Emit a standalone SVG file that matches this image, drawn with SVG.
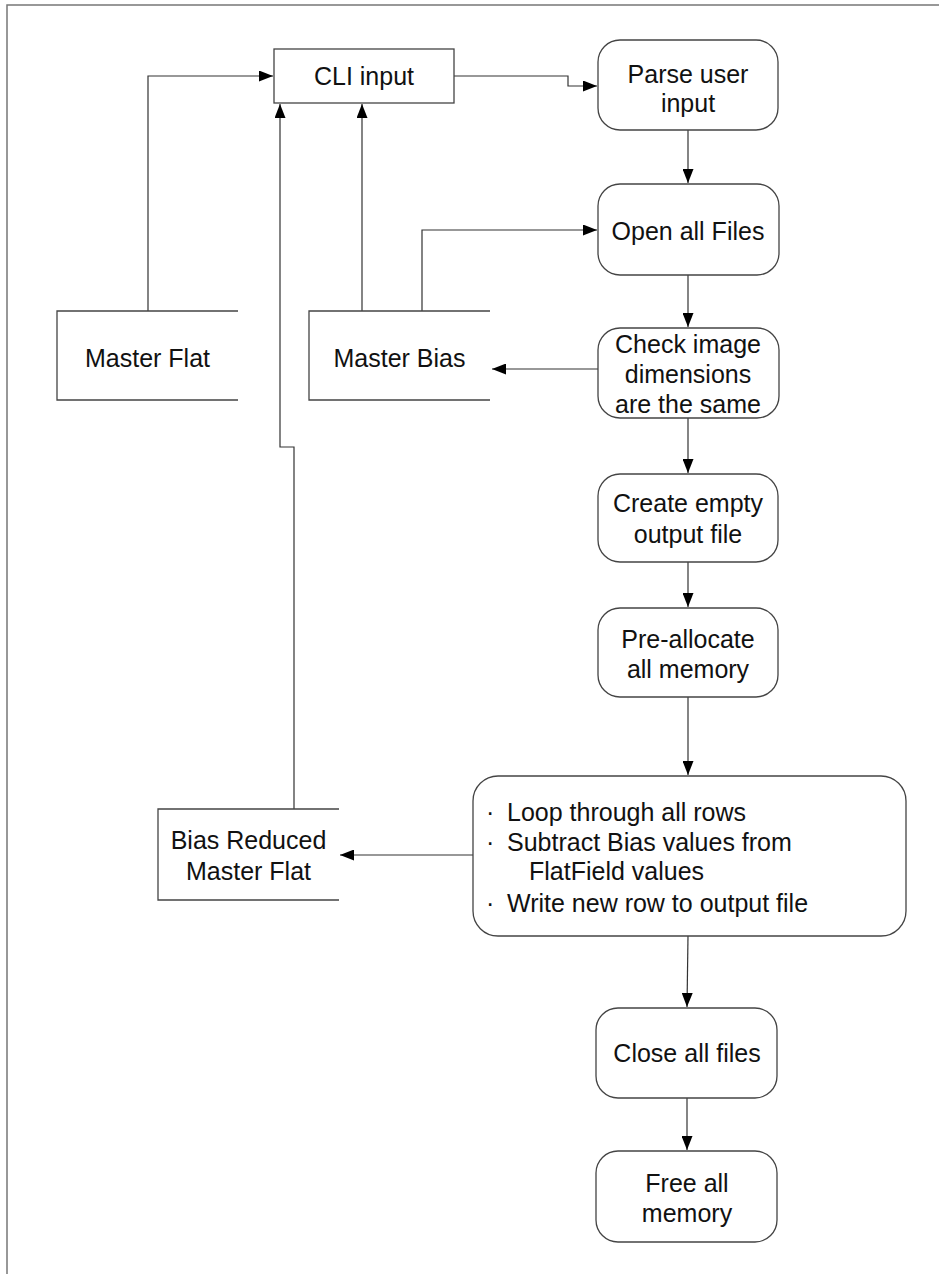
<svg xmlns="http://www.w3.org/2000/svg" width="939" height="1274" viewBox="0 0 939 1274">
<defs>
<marker id="arr" viewBox="0 0 14 11" refX="14" refY="5.5" markerWidth="14" markerHeight="11" markerUnits="userSpaceOnUse" orient="auto">
<path d="M0,0 L14,5.5 L0,11 z" fill="#000"/>
</marker>
<style>
.t{font-family:"Liberation Sans",Arial,sans-serif;font-size:25px;fill:#111;}
.c{text-anchor:middle;}
.box{fill:#fff;stroke:#444;stroke-width:1.3;}
.open{fill:none;stroke:#444;stroke-width:1.3;}
.ln{fill:none;stroke:#333;stroke-width:1.2;}
.frame{fill:none;stroke:#777;stroke-width:1.5;}
</style>
</defs>
<rect width="939" height="1274" fill="#fff"/>
<path class="frame" d="M7,1274 V5 H939"/>

<g id="connectors">
<path class="ln" d="M452,76 H568 V86 H597" marker-end="url(#arr)"/>
<path class="ln" d="M148,311 V76 H273" marker-end="url(#arr)"/>
<path class="ln" d="M362,311 V104" marker-end="url(#arr)"/>
<path class="ln" d="M294,809 V447 H280 V104" marker-end="url(#arr)"/>
<path class="ln" d="M422,311 V230 H597" marker-end="url(#arr)"/>
<path class="ln" d="M688,130 V183" marker-end="url(#arr)"/>
<path class="ln" d="M688,275 V327" marker-end="url(#arr)"/>
<path class="ln" d="M598,369 H492" marker-end="url(#arr)"/>
<path class="ln" d="M688,418 V473" marker-end="url(#arr)"/>
<path class="ln" d="M688,562 V607" marker-end="url(#arr)"/>
<path class="ln" d="M688,697 V775" marker-end="url(#arr)"/>
<path class="ln" d="M473,855 H340" marker-end="url(#arr)"/>
<path class="ln" d="M688,936 L687,1007" marker-end="url(#arr)"/>
<path class="ln" d="M687,1098 V1150" marker-end="url(#arr)"/>
</g>

<g id="cli">
<rect class="box" x="274" y="49" width="180" height="54"/>
<text class="t c" x="364" y="85">CLI input</text>
</g>

<g id="parse">
<rect class="box" x="598" y="40" width="180" height="90" rx="22"/>
<text class="t c" x="688" y="83">Parse user</text>
<text class="t c" x="688" y="112">input</text>
</g>

<g id="open">
<rect class="box" x="598" y="184" width="181" height="91" rx="22"/>
<text class="t c" x="688" y="240">Open all Files</text>
</g>

<g id="masterflat">
<path class="open" d="M238,311 H57 V400 H238"/>
<text class="t c" x="147.5" y="367">Master Flat</text>
</g>

<g id="masterbias">
<path class="open" d="M490,311 H309 V400 H490"/>
<text class="t c" x="399.5" y="367">Master Bias</text>
</g>

<g id="check">
<rect class="box" x="598" y="328" width="181" height="90" rx="22"/>
<text class="t c" x="688" y="353">Check image</text>
<text class="t c" x="688" y="383">dimensions</text>
<text class="t c" x="688" y="413">are the same</text>
</g>

<g id="create">
<rect class="box" x="598" y="474" width="180" height="88" rx="22"/>
<text class="t c" x="688" y="512">Create empty</text>
<text class="t c" x="688" y="543">output file</text>
</g>

<g id="prealloc">
<rect class="box" x="598" y="608" width="180" height="89" rx="22"/>
<text class="t c" x="688" y="648">Pre-allocate</text>
<text class="t c" x="688" y="678">all memory</text>
</g>

<g id="loop">
<rect class="box" x="473" y="776" width="433" height="160" rx="25"/>
<text class="t" x="486" y="821">·</text><text class="t" x="507" y="821">Loop through all rows</text>
<text class="t" x="486" y="851">·</text><text class="t" x="507" y="851">Subtract Bias values from</text>
<text class="t" x="529" y="880">FlatField values</text>
<text class="t" x="486" y="912">·</text><text class="t" x="507" y="912">Write new row to output file</text>
</g>

<g id="biasreduced">
<path class="open" d="M339,809 H158 V900 H339"/>
<text class="t c" x="248.5" y="849">Bias Reduced</text>
<text class="t c" x="248.5" y="880">Master Flat</text>
</g>

<g id="close">
<rect class="box" x="596" y="1008" width="181" height="90" rx="22"/>
<text class="t c" x="687" y="1062">Close all files</text>
</g>

<g id="free">
<rect class="box" x="596" y="1151" width="181" height="91" rx="22"/>
<text class="t c" x="687" y="1192">Free all</text>
<text class="t c" x="687" y="1222">memory</text>
</g>
</svg>
